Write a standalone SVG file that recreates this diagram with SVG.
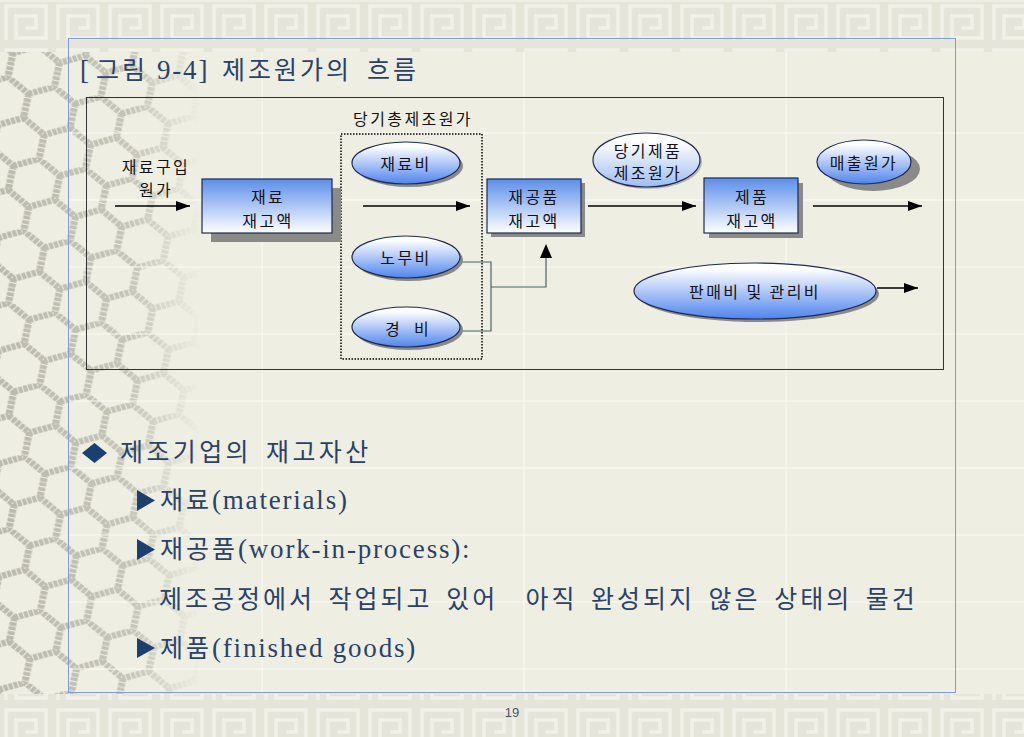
<svg xmlns="http://www.w3.org/2000/svg" width="1024" height="737" viewBox="0 0 1024 737">
<defs>
<style>
.lbl{font-family:"Noto Sans CJK KR","Noto Sans",sans-serif;font-size:16px;fill:#111;letter-spacing:2.4px;text-anchor:middle;dominant-baseline:central}
.body{font-family:"Noto Sans CJK KR","Liberation Serif",sans-serif;font-size:25px;fill:#2a4168;letter-spacing:3px;word-spacing:5px}
.lat{font-family:"Liberation Serif",serif;font-size:27px;letter-spacing:1.8px;word-spacing:0}
.box{fill:url(#boxGrad);stroke:#1c2a55;stroke-width:1.2}
.ell{fill:url(#ellGrad);stroke:#1c2a55;stroke-width:1.2}
.shadow{fill:#8a8a86}
.arrow{fill:none;stroke:#000;stroke-width:1.3;marker-end:url(#ah)}
.conn{fill:none;stroke:#4b6366;stroke-width:1.2}
.grid{stroke:#fbfbf5;stroke-width:1}
.bul{fill:#1b3f6e}
</style>
<linearGradient id="boxGrad" x1="0" y1="0" x2="0" y2="1">
<stop offset="0" stop-color="#5b8eea"/>
<stop offset="1" stop-color="#ffffff"/>
</linearGradient>
<linearGradient id="ellGrad" x1="0" y1="0" x2="0" y2="1">
<stop offset="0.1" stop-color="#ffffff"/>
<stop offset="1" stop-color="#4f84ee"/>
</linearGradient>
<linearGradient id="ellGrad2" x1="0" y1="0" x2="0" y2="1">
<stop offset="0.15" stop-color="#ffffff"/>
<stop offset="1" stop-color="#9dbdf3"/>
</linearGradient>
<marker id="ah" viewBox="0 0 14 10" refX="14" refY="5" markerWidth="14" markerHeight="10" markerUnits="userSpaceOnUse" orient="auto">
<path d="M0,0 L14,5 L0,10 Z" fill="#000"/>
</marker>
<pattern id="key" x="0" y="0" width="52" height="44" patternUnits="userSpaceOnUse">
<rect width="52" height="44" fill="#e5e5da"/>
<path d="M6,40 V6 H46 V38 H16 V16 H36 V28 H26" fill="none" stroke="#f1f1e9" stroke-width="3.5"/>
</pattern>
<pattern id="stone" x="0" y="0" width="50" height="86.6" patternUnits="userSpaceOnUse" patternTransform="rotate(12) scale(0.95 0.85)">
<path id="hex" d="M0,14.4 L25,0 L50,14.4 M0,14.4 V43.3 M50,14.4 V43.3 M0,43.3 L25,57.7 L50,43.3 M25,57.7 V86.6" fill="none" stroke="#a3a395" stroke-width="7" stroke-dasharray="4 1.5" stroke-linejoin="round"/>
<use href="#hex" stroke="#dcdcd0" stroke-width="4.5" stroke-dasharray="none"/>
</pattern>
<linearGradient id="fade" x1="0" y1="0" x2="1" y2="0">
<stop offset="0" stop-color="#fff" stop-opacity="0.7"/>
<stop offset="0.65" stop-color="#fff" stop-opacity="0.55"/>
<stop offset="1" stop-color="#fff" stop-opacity="0"/>
</linearGradient>
<mask id="stoneMask">
<rect x="0" y="40" width="200" height="655" fill="url(#fade)"/>
</mask>
</defs>

<rect width="1024" height="737" fill="#efeee3"/>
<g id="background">
<rect x="0" y="40" width="200" height="655" fill="url(#stone)" mask="url(#stoneMask)"/>
<g class="grid">
<line x1="262" y1="40" x2="262" y2="692"/>
<line x1="524" y1="40" x2="524" y2="692"/>
<line x1="786" y1="40" x2="786" y2="692"/>
<line x1="68" y1="133" x2="1024" y2="133"/>
<line x1="68" y1="200" x2="1024" y2="200"/>
<line x1="68" y1="267" x2="1024" y2="267"/>
<line x1="68" y1="334" x2="1024" y2="334"/>
<line x1="68" y1="401" x2="1024" y2="401"/>
<line x1="68" y1="468" x2="1024" y2="468"/>
<line x1="68" y1="535" x2="1024" y2="535"/>
<line x1="68" y1="602" x2="1024" y2="602"/>
<line x1="68" y1="669" x2="1024" y2="669"/>
</g>
<rect x="0" y="2" width="1024" height="50" fill="url(#key)"/>
<rect x="0" y="694" width="1024" height="43" fill="url(#key)"/>
<rect x="68.5" y="38.5" width="887" height="654" fill="none" stroke="#7f9be0" stroke-width="1"/>
</g>

<text id="title" class="body" y="79"><tspan class="lat" x="80">[</tspan><tspan x="96">그림</tspan><tspan class="lat" x="157">9-4]</tspan><tspan x="222">제조원가의</tspan><tspan x="367">흐름</tspan></text>

<g id="frame">
<rect x="86.5" y="97.5" width="857" height="272" fill="none" stroke="#333" stroke-width="1"/>
<rect x="341" y="134" width="141" height="225" fill="none" stroke="#000" stroke-width="1.5" stroke-dasharray="1.5 1.5"/>
<text class="lbl" x="413" y="118">당기총제조원가</text>
</g>

<g id="connectors">
<line class="arrow" x1="115" y1="206" x2="190" y2="206"/>
<line class="arrow" x1="363" y1="206" x2="470" y2="206"/>
<line class="arrow" x1="588" y1="206" x2="696" y2="206"/>
<line class="arrow" x1="813" y1="206" x2="922" y2="206"/>
<line class="arrow" x1="877" y1="288" x2="918" y2="288"/>
<path class="conn" d="M460,262 H491 V331 H460"/>
<path class="conn" d="M491,287 H546 V258"/>
<path d="M540,258 L546,244 L552,258 Z" fill="#000"/>
</g>

<g id="n-purchase">
<text class="lbl" x="156" y="166">재료구입</text>
<text class="lbl" x="156" y="189">원가</text>
</g>

<g id="n-materials">
<rect class="shadow" x="211" y="188" width="130" height="54"/>
<rect class="box" x="202" y="179" width="130" height="54"/>
<text class="lbl" x="268" y="196">재료</text>
<text class="lbl" x="268" y="220">재고액</text>
</g>

<g id="n-matcost">
<ellipse class="shadow" cx="409" cy="166" rx="54" ry="21"/>
<ellipse class="ell" cx="406" cy="163" rx="54" ry="21"/>
<text class="lbl" x="406" y="163">재료비</text>
</g>

<g id="n-labor">
<ellipse class="shadow" cx="409" cy="260" rx="54" ry="21"/>
<ellipse class="ell" cx="406" cy="257" rx="54" ry="21"/>
<text class="lbl" x="406" y="257">노무비</text>
</g>

<g id="n-overhead">
<ellipse class="shadow" cx="409" cy="330" rx="54" ry="20"/>
<ellipse class="ell" cx="406" cy="327" rx="54" ry="20"/>
<text class="lbl" x="408" y="328" xml:space="preserve">경  비</text>
</g>

<g id="n-wip">
<rect class="shadow" x="491" y="183" width="94" height="54"/>
<rect class="box" x="487" y="179" width="94" height="54"/>
<text class="lbl" x="534" y="196">재공품</text>
<text class="lbl" x="534" y="220">재고액</text>
</g>

<g id="n-cogm">
<ellipse cx="648" cy="162" rx="54" ry="27" fill="#b8b8b0"/>
<ellipse cx="646.5" cy="160" rx="53.5" ry="27" fill="url(#ellGrad2)" stroke="#1c2a55" stroke-width="1.2"/>
<text class="lbl" x="648" y="150">당기제품</text>
<text class="lbl" x="648" y="172">제조원가</text>
</g>

<g id="n-finished">
<rect class="shadow" x="709" y="183" width="94" height="55"/>
<rect class="box" x="704" y="178" width="94" height="55"/>
<text class="lbl" x="752" y="196">제품</text>
<text class="lbl" x="752" y="220">재고액</text>
</g>

<g id="n-cogs">
<ellipse class="shadow" cx="873" cy="169" rx="47" ry="22"/>
<ellipse class="ell" cx="864" cy="162" rx="47" ry="22"/>
<text class="lbl" x="864" y="162">매출원가</text>
</g>

<g id="n-sga">
<ellipse class="shadow" cx="758" cy="294" rx="121" ry="28"/>
<ellipse class="ell" cx="755" cy="291" rx="121" ry="28"/>
<text class="lbl" x="755" y="291">판매비 및 관리비</text>
</g>

<g id="bullets">
<path class="bul" d="M82,453 L94.5,443 L107,453 L94.5,463 Z"/>
<text class="body" x="120" y="461" style="letter-spacing:3.4px">제조기업의 재고자산</text>
<path class="bul" d="M137,490 L155,500.5 L137,511 Z"/>
<text class="body" x="160" y="509">재료<tspan class="lat">(materials)</tspan></text>
<path class="bul" d="M137,539 L155,549.5 L137,560 Z"/>
<text class="body" x="160" y="558">재공품<tspan class="lat">(work-in-process):</tspan></text>
<text class="body" x="159" y="608" xml:space="preserve">제조공정에서 작업되고 있어  아직 완성되지 않은 상태의 물건</text>
<path class="bul" d="M137,638 L155,648 L137,658 Z"/>
<text class="body" x="160" y="657">제품<tspan class="lat">(finished goods)</tspan></text>
</g>

<text id="page" x="512" y="717" font-family="Liberation Sans, sans-serif" font-size="13" fill="#4a5060" text-anchor="middle">19</text>
</svg>
